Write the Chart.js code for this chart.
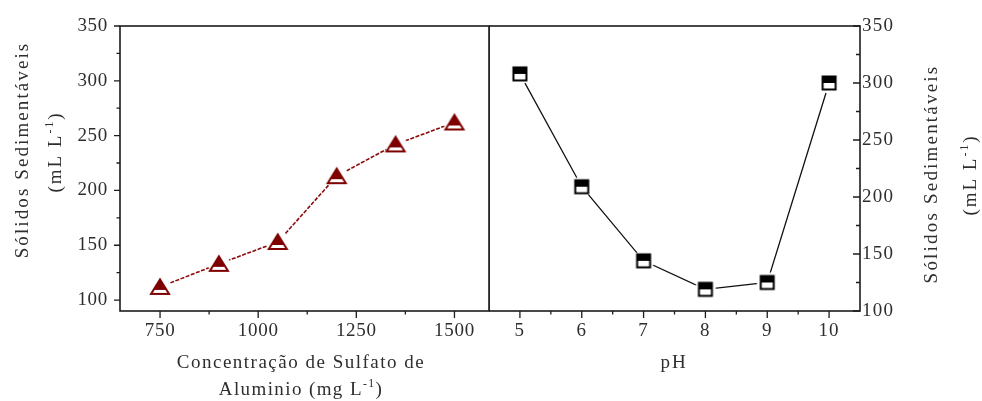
<!DOCTYPE html>
<html>
<head>
<meta charset="utf-8">
<script src="https://cdn.jsdelivr.net/npm/chart.js@4.4.0/dist/chart.umd.min.js"></script>
<style>
  html, body { margin: 0; padding: 0; background: #fff; }
  #wrap { position: relative; width: 982px; height: 401px; overflow: hidden; background: #fff; }
  #doseChart { position: absolute; left: 0; top: 0; }
  #phChart { position: absolute; left: 489px; top: 0; }
</style>
</head>
<body>
<div id="wrap">
  <canvas id="doseChart" width="490" height="401"></canvas>
  <canvas id="phChart" width="493" height="401"></canvas>
</div>
<script>
// Settleable solids vs. aluminium sulfate dose
const sulfateDose = [750, 900, 1050, 1200, 1350, 1500];
const solidsByDose = [112, 133, 153, 213, 242, 262];

// Settleable solids vs. pH
const phValues = [5, 6, 7, 8, 9, 10];
const solidsByPh = [308, 209, 144, 119, 125, 300];

// Axis ticks
const doseTicks = [750, 1000, 1250, 1500];
const phTicks = [5, 6, 7, 8, 9, 10];
const solidsTicks = [100, 150, 200, 250, 300, 350];

const FONT = "'Liberation Serif', 'Times New Roman', serif";
const TEXT = '#2e2e2e';
const AXIS = '#1c1c1c';

// ---- marker images (white halo keeps the line off the symbol) ----
function triangleMarker(color) {
  const c = document.createElement('canvas');
  c.width = 28; c.height = 28;
  const g = c.getContext('2d');
  const cx = 14, cy = 14;
  g.fillStyle = '#fff';
  g.beginPath(); g.arc(cx, cy, 11, 0, Math.PI * 2); g.fill();
  const top = cy - 7.5, bot = cy + 7, half = 9;
  const path = () => {
    g.beginPath();
    g.moveTo(cx, top);
    g.lineTo(cx + half, bot);
    g.lineTo(cx - half, bot);
    g.closePath();
  };
  path(); g.fillStyle = '#fff'; g.fill();
  g.save(); path(); g.clip();
  g.fillStyle = color; g.fillRect(0, 0, 28, cy + 3);
  g.restore();
  path(); g.strokeStyle = color; g.lineWidth = 2; g.lineJoin = 'miter'; g.stroke();
  return c;
}

function squareMarker(color) {
  const c = document.createElement('canvas');
  c.width = 26; c.height = 26;
  const g = c.getContext('2d');
  const cx = 13, cy = 13, s = 13;
  g.fillStyle = '#fff';
  g.beginPath(); g.arc(cx, cy, 10.5, 0, Math.PI * 2); g.fill();
  const x0 = cx - s / 2, y0 = cy - s / 2;
  g.fillStyle = '#fff'; g.fillRect(x0, y0, s, s);
  g.fillStyle = color; g.fillRect(x0, y0, s, s * 0.5);
  g.strokeStyle = color; g.lineWidth = 2; g.strokeRect(x0, y0, s, s);
  return c;
}

// ---- text helpers ----
function richWidth(ctx, parts, size) {
  let w = 0;
  for (const p of parts) {
    ctx.font = (p.sup ? size * 0.62 : size) + 'px ' + FONT;
    w += ctx.measureText(p.t).width;
  }
  return w;
}
function drawRich(ctx, parts, x, y, size, spacing) {
  // centred horizontally at x, baseline at y
  ctx.letterSpacing = (spacing || 0) + 'px';
  let cur = x - richWidth(ctx, parts, size) / 2;
  ctx.textAlign = 'left';
  ctx.textBaseline = 'alphabetic';
  for (const p of parts) {
    const s = p.sup ? size * 0.62 : size;
    ctx.font = s + 'px ' + FONT;
    ctx.fillText(p.t, cur, p.sup ? y - size * 0.42 : y);
    cur += ctx.measureText(p.t).width;
  }
  ctx.letterSpacing = '0px';
}

// ---- frame, tick marks and axis titles ----
function mids(arr) {
  const out = [];
  for (let i = 0; i < arr.length - 1; i++) out.push((arr[i] + arr[i + 1]) / 2);
  return out;
}

function framePlugin(opts) {
  return {
    id: 'frame_' + opts.name,
    beforeDraw(chart) {
      chart.ctx.letterSpacing = opts.tickSpacing + 'px';
    },
    afterDraw(chart) {
      const { ctx, chartArea: a, scales } = chart;
      const xs = scales.x, ys = scales.y;
      ctx.save();
      ctx.strokeStyle = AXIS;
      ctx.lineWidth = 1.6;
      ctx.strokeRect(a.left, a.top, a.right - a.left, a.bottom - a.top);

      ctx.lineWidth = 1.3;
      ctx.beginPath();
      // x ticks point down, out of the frame
      for (const v of opts.xMajor) {
        const px = xs.getPixelForValue(v);
        ctx.moveTo(px, a.bottom); ctx.lineTo(px, a.bottom + 7);
      }
      for (const v of opts.xMinor) {
        const px = xs.getPixelForValue(v);
        ctx.moveTo(px, a.bottom); ctx.lineTo(px, a.bottom + 3.5);
      }
      // y ticks point left (outward on the left axis, inward on the right one)
      const yEdge = opts.yRight ? a.right : a.left;
      for (const v of opts.yMajor) {
        const py = ys.getPixelForValue(v);
        ctx.moveTo(yEdge, py); ctx.lineTo(yEdge - opts.yMajorLen, py);
      }
      for (const v of opts.yMinor) {
        const py = ys.getPixelForValue(v);
        ctx.moveTo(yEdge, py); ctx.lineTo(yEdge - opts.yMinorLen, py);
      }
      ctx.stroke();

      // axis titles (page coordinates shifted into this canvas)
      ctx.fillStyle = TEXT;
      const ox = opts.offsetX;
      for (const t of opts.xTitles) {
        drawRich(ctx, t.parts, t.x - ox, t.y, t.size, t.spacing);
      }
      for (const t of opts.yTitles) {
        ctx.save();
        ctx.translate(t.x - ox, t.y);
        ctx.rotate(-Math.PI / 2);
        drawRich(ctx, t.parts, 0, 0, t.size, t.spacing);
        ctx.restore();
      }
      ctx.restore();
    }
  };
}

function fixedTicks(values) {
  return function (scale) {
    scale.ticks = values.map(v => ({ value: v }));
  };
}
function fitX(s) { s.height = 90; s.paddingLeft = 0; s.paddingRight = 0; }
function fitY(w) {
  return function (s) { s.width = w; s.paddingTop = 0; s.paddingBottom = 0; };
}

const tickFont = { family: FONT, size: 19 };

// ---------- left panel: dose ----------
new Chart(document.getElementById('doseChart'), {
  type: 'line',
  data: {
    labels: sulfateDose,
    datasets: [{
      data: sulfateDose.map((x, i) => ({ x: x, y: solidsByDose[i] })),
      borderColor: '#8b0a0a',
      borderWidth: 1.6,
      borderDash: [4, 1.5],
      pointStyle: triangleMarker('#7f0000'),
      pointRadius: 10,
      tension: 0,
      fill: false
    }]
  },
  options: {
    responsive: false,
    animation: false,
    events: [],
    layout: { autoPadding: false, padding: { left: 0, right: 1, top: 26, bottom: 0 } },
    plugins: { legend: { display: false }, tooltip: { enabled: false } },
    scales: {
      x: {
        type: 'linear', min: 648, max: 1588,
        afterBuildTicks: fixedTicks(doseTicks),
        afterFit: fitX,
        grid: { display: false, drawTicks: false },
        border: { display: false },
        ticks: { font: tickFont, color: TEXT, padding: 9, maxRotation: 0, callback: v => String(v) }
      },
      y: {
        type: 'linear', min: 90, max: 350,
        afterBuildTicks: fixedTicks(solidsTicks),
        afterFit: fitY(120),
        grid: { display: false, drawTicks: false },
        border: { display: false },
        ticks: { font: tickFont, color: TEXT, padding: 12, callback: v => String(v) }
      }
    }
  },
  plugins: [framePlugin({
    name: 'dose', offsetX: 0, yRight: false, tickSpacing: 0.7,
    xMajor: doseTicks, xMinor: mids(doseTicks),
    yMajor: solidsTicks, yMinor: mids(solidsTicks), yMajorLen: 6, yMinorLen: 3.5,
    xTitles: [
      { parts: [{ t: 'Concentração de Sulfato de' }], x: 301, y: 368, size: 19, spacing: 1.5 },
      { parts: [{ t: 'Aluminio (mg L' }, { t: '-1', sup: true }, { t: ')' }], x: 301, y: 395, size: 19, spacing: 1.4 }
    ],
    yTitles: [
      { parts: [{ t: 'Sólidos Sedimentáveis' }], x: 28, y: 150, size: 19, spacing: 2.1 },
      { parts: [{ t: '(mL L' }, { t: '-1', sup: true }, { t: ')' }], x: 61, y: 152, size: 19, spacing: 2 }
    ]
  })]
});

// ---------- right panel: pH ----------
new Chart(document.getElementById('phChart'), {
  type: 'line',
  data: {
    labels: phValues,
    datasets: [{
      data: phValues.map((x, i) => ({ x: x, y: solidsByPh[i] })),
      borderColor: '#111',
      borderWidth: 1.3,
      pointStyle: squareMarker('#000'),
      pointRadius: 10,
      tension: 0,
      fill: false
    }]
  },
  options: {
    responsive: false,
    animation: false,
    events: [],
    layout: { autoPadding: false, padding: { left: 0, right: 0, top: 26, bottom: 0 } },
    plugins: { legend: { display: false }, tooltip: { enabled: false } },
    scales: {
      x: {
        type: 'linear', min: 4.5, max: 10.5,
        afterBuildTicks: fixedTicks(phTicks),
        afterFit: fitX,
        grid: { display: false, drawTicks: false },
        border: { display: false },
        ticks: { font: tickFont, color: TEXT, padding: 9, maxRotation: 0, callback: v => String(v) }
      },
      y: {
        type: 'linear', position: 'right', min: 100, max: 350,
        afterBuildTicks: fixedTicks(solidsTicks),
        afterFit: fitY(122),
        grid: { display: false, drawTicks: false },
        border: { display: false },
        ticks: { font: tickFont, color: TEXT, padding: 2, callback: v => String(v) }
      }
    }
  },
  plugins: [framePlugin({
    name: 'ph', offsetX: 489, yRight: true, tickSpacing: 1.2,
    xMajor: phTicks, xMinor: mids(phTicks),
    yMajor: solidsTicks, yMinor: mids(solidsTicks), yMajorLen: 7, yMinorLen: 4,
    xTitles: [
      { parts: [{ t: 'pH' }], x: 674, y: 368, size: 19, spacing: 2 }
    ],
    yTitles: [
      { parts: [{ t: 'Sólidos Sedimentáveis' }], x: 937, y: 174, size: 19, spacing: 2.2 },
      { parts: [{ t: '(mL L' }, { t: '-1', sup: true }, { t: ')' }], x: 976, y: 175, size: 19, spacing: 2 }
    ]
  })]
});
</script>
</body>
</html>
